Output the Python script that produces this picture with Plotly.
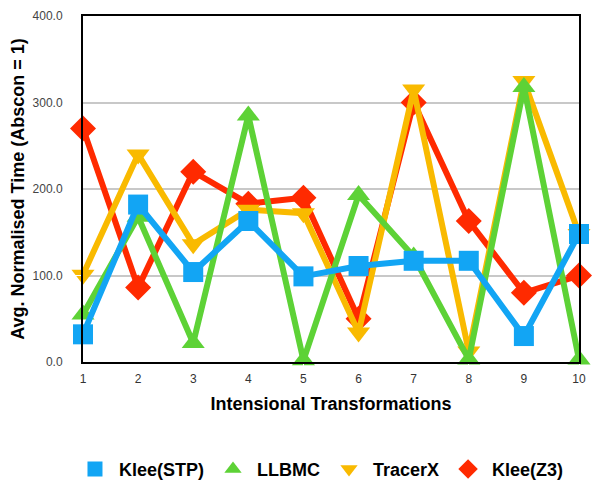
import plotly.graph_objects as go

transforms = [1, 2, 3, 4, 5, 6, 7, 8, 9, 10]

klee_stp = [32, 182, 104, 163, 99, 111, 117, 117, 30, 148]
llbmc = [55, 168, 22, 285, 2, 193, 122, 3, 318, 3]
tracerx = [101, 240, 136, 176, 172, 34, 315, 12, 325, 148]
klee_z3 = [270, 86, 220, 183, 190, 50, 300, 163, 80, 100]

series = [
    ("Klee(STP)", klee_stp, "#12A5F4", "square"),
    ("LLBMC", llbmc, "#5DD236", "triangle-up"),
    ("TracerX", tracerx, "#F9BA00", "triangle-down"),
    ("Klee(Z3)", klee_z3, "#FF2A00", "diamond"),
]

fig = go.Figure()

# draw order: red at the back, blue in front
for name, vals, col, sym in [series[3], series[2], series[1], series[0]]:
    fig.add_trace(go.Scatter(x=transforms, y=vals, mode="lines+markers", name=name,
                             line=dict(color=col, width=6),
                             marker=dict(color=col, symbol=sym, size=20),
                             showlegend=False, cliponaxis=False))

# legend entries showing only the marker
for name, vals, col, sym in series:
    fig.add_trace(go.Scatter(x=[None], y=[None], mode="markers", name=name,
                             marker=dict(color=col, symbol=sym, size=15)))

# page body has an 8px margin, so the figure is a bit smaller than the window
fig.update_layout(
    width=592, height=473,
    margin=dict(l=75, r=21, t=8, b=119),
    paper_bgcolor="white", plot_bgcolor="white",
    font=dict(family="Liberation Sans, Arial, sans-serif", color="#222"),
    legend=dict(orientation="h", xref="container", x=0.527, xanchor="center",
                yref="container", y=0.025, yanchor="middle",
                font=dict(size=18, color="black", weight="bold"), itemwidth=38,
                traceorder="normal"),
)
fig.update_xaxes(range=[1, 10], tickvals=transforms, showgrid=False, automargin=False,
                 showline=True, linecolor="black", linewidth=2, mirror=True,
                 ticks="outside", ticklen=5, tickcolor="white",
                 tickfont=dict(size=12, color="#333"),
                 title=dict(text="Intensional Transformations", standoff=12,
                            font=dict(size=18, color="black", weight="bold")))
fig.update_yaxes(range=[0, 400], dtick=100, tickformat=".1f", showgrid=True,
                 gridcolor="#C8C8C8", gridwidth=1.5, zeroline=False, automargin=False,
                 showline=True, linecolor="black", linewidth=2, mirror=True,
                 ticks="outside", ticklen=16, tickcolor="white",
                 tickfont=dict(size=12, color="#444"),
                 title=dict(text="Avg. Normalised Time (Abscon = 1)", standoff=4,
                            font=dict(size=18, color="black", weight="bold")))

fig.write_html("out.html")
